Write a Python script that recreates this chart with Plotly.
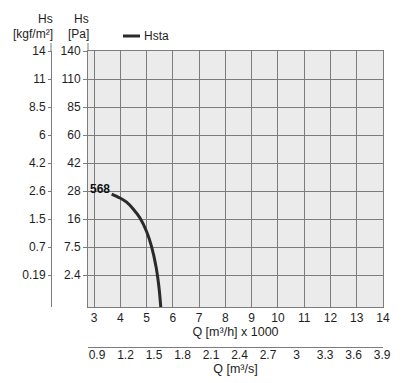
import numpy as np
import plotly.graph_objects as go

# ---- data ----
q_m3h_k = [3.67, 3.99, 4.24, 4.49, 4.75, 5.00, 5.19, 5.36, 5.47, 5.54]   # Q [m3/h] x 1000
hs_pa = [26.7, 25.0, 23.2, 20.3, 16.4, 12.2, 7.6, 3.9, 1.5, 0.0]         # Hsta [Pa]
curve_label = "568"

pa_ticks = [2.4, 7.5, 16, 28, 42, 60, 85, 110, 140]
kgf_labels = ["0.19", "0.7", "1.5", "2.6", "4.2", "6", "8.5", "11", "14"]
q_h_ticks = list(range(3, 15))
q_s_ticks = [0.9, 1.2, 1.5, 1.8, 2.1, 2.4, 2.7, 3.0, 3.3, 3.6, 3.9]
q_s_labels = ["0.9", "1.2", "1.5", "1.8", "2.1", "2.4", "2.7", "3", "3.3", "3.6", "3.9"]

# ---- chart's own pressure scale: tick values are equally spaced ----
Y_BOTTOM = -0.143
scale_vals = [0.0] + pa_ticks
scale_pos = [Y_BOTTOM] + list(range(1, len(pa_ticks) + 1))


def pa_to_pos(v):
    return np.interp(v, scale_vals, scale_pos)


tick_pos = list(range(1, len(pa_ticks) + 1))
pa_labels = [("%g" % v) for v in pa_ticks]

FONT = "Liberation Sans, Arial, sans-serif"
GRID = "#7c7c7c"
TXT = "#1e1e1e"

fig = go.Figure()
fig.add_trace(go.Scatter(
    x=q_m3h_k, y=pa_to_pos(hs_pa), mode="lines", name="Hsta",
    line=dict(color="#2a2a2a", width=3, shape="spline"),
    showlegend=False, hoverinfo="skip"))
# helper traces so overlay axes are drawn
fig.add_trace(go.Scatter(x=[None], y=[None], xaxis="x2", yaxis="y", showlegend=False))
fig.add_trace(go.Scatter(x=[None], y=[None], xaxis="x", yaxis="y2", showlegend=False))

OFF = 8  # page body margin
W, H = 409 - OFF, 383 - OFF
ML, MT = 51 - OFF, 43 - OFF
MR = W - (383 - OFF)
MB = H - (347 - OFF)
PW, PH = W - ML - MR, H - MT - MB


def px_x(p):
    return (p - OFF - ML) / PW


def px_y(p):
    return (H - MB - (p - OFF)) / PH


xdom = [px_x(88), 1.0]
ydom = [px_y(307), px_y(51)]

fig.update_layout(
    width=W, height=H,
    margin=dict(l=ML, r=MR, t=MT, b=MB, autoexpand=False),
    paper_bgcolor="white", plot_bgcolor="#ebebeb",
    font=dict(family=FONT, size=12, color=TXT),
    showlegend=False,
    xaxis=dict(
        domain=xdom, anchor="y", range=[2.77, 14],
        tickvals=q_h_ticks, ticktext=[str(v) for v in q_h_ticks],
        showgrid=True, gridcolor=GRID, gridwidth=1,
        showline=True, linecolor=GRID, linewidth=1, mirror=True,
        ticks="", zeroline=False,
        title=dict(text="Q [m³/h] x 1000", standoff=2, font=dict(size=12.5)),
        automargin=False, fixedrange=True),
    xaxis2=dict(
        overlaying="x", anchor="free", position=0, side="bottom",
        range=[0.805, 3.91],
        tickvals=q_s_ticks, ticktext=q_s_labels,
        showgrid=False, showline=True, linecolor=GRID, linewidth=1,
        ticks="", zeroline=False, ticklabelstandoff=-3,
        title=dict(text="Q [m³/s]", standoff=0, font=dict(size=12.5)),
        automargin=False, fixedrange=True),
    yaxis=dict(
        domain=ydom, anchor="x", range=[Y_BOTTOM, 9],
        tickvals=tick_pos, ticktext=pa_labels,
        showgrid=True, gridcolor=GRID, gridwidth=1,
        showline=True, linecolor=GRID, linewidth=1, mirror=True,
        ticks="outside", ticklen=4, tickcolor=GRID, zeroline=False,
        automargin=False, fixedrange=True),
    yaxis2=dict(
        overlaying="y", anchor="free", position=0, side="left",
        range=[Y_BOTTOM, 9],
        tickvals=tick_pos, ticktext=kgf_labels,
        showgrid=False, showline=True, linecolor=GRID, linewidth=1,
        ticks="outside", ticklen=3, tickcolor=GRID, zeroline=False,
        automargin=False, fixedrange=True),
)

shapes = [
    dict(type="line", xref="paper", yref="paper", x0=xdom[0], x1=xdom[0],
         y0=ydom[1], y1=px_y(43), line=dict(color=GRID, width=1)),
    dict(type="line", xref="paper", yref="paper", x0=0, x1=0,
         y0=ydom[1], y1=px_y(43), line=dict(color=GRID, width=1)),
    # legend sample line
    dict(type="line", xref="paper", yref="paper", x0=px_x(123), x1=px_x(140),
         y0=px_y(36), y1=px_y(36), line=dict(color="#2a2a2a", width=3)),
]
fig.update_layout(shapes=shapes)

ann = [
    dict(text="Hs", x=px_x(55), y=px_y(19), xanchor="right", yanchor="middle"),
    dict(text="[kgf/m²]", x=px_x(55), y=px_y(33.5), xanchor="right", yanchor="middle"),
    dict(text="Hs", x=px_x(91), y=px_y(19), xanchor="right", yanchor="middle"),
    dict(text="[Pa]", x=px_x(91), y=px_y(33.5), xanchor="right", yanchor="middle"),
    dict(text="Hsta", x=px_x(142), y=px_y(36), xanchor="left", yanchor="middle"),
]
annotations = [dict(a, xref="paper", yref="paper", showarrow=False,
                    font=dict(size=12, color=TXT, family=FONT)) for a in ann]
annotations.append(dict(
    text="<b>" + curve_label + "</b>", x=q_m3h_k[0], y=float(pa_to_pos(hs_pa[0])),
    xref="x", yref="y", xanchor="right", yanchor="middle", xshift=0, yshift=5,
    showarrow=False, font=dict(size=12, color="#111", family=FONT)))
fig.update_layout(annotations=annotations)

fig.write_html("out.html")
